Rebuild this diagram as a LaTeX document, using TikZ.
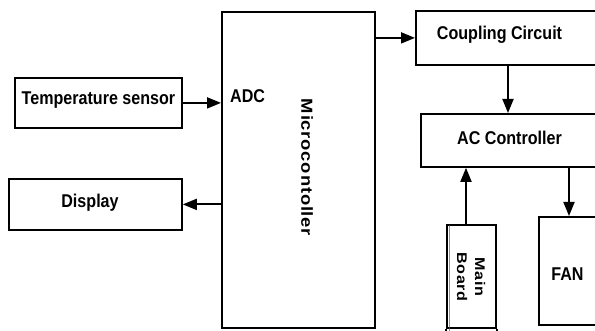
\documentclass[tikz,border=0pt]{standalone}
\usepackage{fontspec}
\setmainfont{Liberation Sans}
\newfontfamily\narrowfont{Liberation Sans}[FakeStretch=0.87]
\newfontfamily\spacedfont{Liberation Sans}[FakeStretch=1.15, LetterSpace=5]
\usepackage{tikz}
\usetikzlibrary{arrows.meta,positioning,calc}

\tikzset{
  blockbox/.style={draw, line width=1.8pt, inner sep=0pt, anchor=north west},
  boxlabel/.style={font=\narrowfont\bfseries\fontsize{18.5}{20}\selectfont, inner sep=0pt, anchor=base},
  vlabel/.style={font=\spacedfont\bfseries\fontsize{16}{18}\selectfont, inner sep=0pt, rotate=-90},
  arr/.style={line width=1.8pt, -{Triangle[length=14pt,width=11pt]}}
}

\begin{document}
\begin{tikzpicture}[x=1pt, y=-1pt]
  \useasboundingbox (0,0) rectangle (595,331);
  \clip (0,0) rectangle (595,331);
  % blocks
  \node[blockbox, minimum width=167, minimum height=50] (sensor) at (14,77) {};
  \node[blockbox, minimum width=173, minimum height=51] (disp) at (8,178) {};
  \node[blockbox, minimum width=153, minimum height=316] (mcu) at (221,11) {};
  \node[blockbox, minimum width=190, minimum height=54] (coup) at (415,10) {};
  \node[blockbox, minimum width=185, minimum height=53] (acc) at (420,113) {};
  \node[blockbox, minimum width=62, minimum height=108] (fan) at (538,216) {};
  \node[blockbox, minimum width=49, minimum height=103] (mainb) at (446,224) {};
  \draw[line width=1.8pt] (mainb.south west) -- ++(0,10);
  \draw[line width=1.8pt] (mainb.south east) -- ++(0,10);
  \draw[gray!70!black, line width=0.7pt] ([xshift=3pt, yshift=-1pt]mainb.north west) -- ([xshift=3pt]mainb.south west) -- ++(0,10);
  % labels
  \node[boxlabel] (tslabel) at (98.5,105) {Temperature sensor};
  \node[boxlabel, anchor=base west] (adclabel) at (230,103) {ADC};
  \node[boxlabel] (displabel) at (90,208) {Display};
  \node[boxlabel] (couplabel) at (499.5,40) {Coupling Circuit};
  \node[boxlabel] (acclabel) at (509.5,145) {AC Controller};
  \node[boxlabel] (fanlabel) at (567.5,281) {FAN};
  \node[vlabel] (mculabel) at (307,167.5) {Microcontoller};
  \node[vlabel, font=\spacedfont\bfseries\fontsize{14}{18}\selectfont, align=center] (mblabel) at (471,277) {Main\\Board};
  % connectors
  \coordinate (coupout) at ([xshift=93pt]coup.south west);
  \coordinate (fanin) at ([xshift=31pt]fan.north west);
  \coordinate (mbout) at ([xshift=20pt]mainb.north west);
  \draw[arr] (sensor.east) -- (mcu.west |- sensor.east);
  \draw[arr] (mcu.west |- disp.east) -- (disp.east);
  \draw[arr] (mcu.east |- coup.west) -- (coup.west);
  \draw[arr] (coupout) -- (coupout |- acc.north);
  \draw[arr] (fanin |- acc.south) -- (fanin);
  \draw[arr] (mbout) -- (mbout |- acc.south);
\end{tikzpicture}
\end{document}
